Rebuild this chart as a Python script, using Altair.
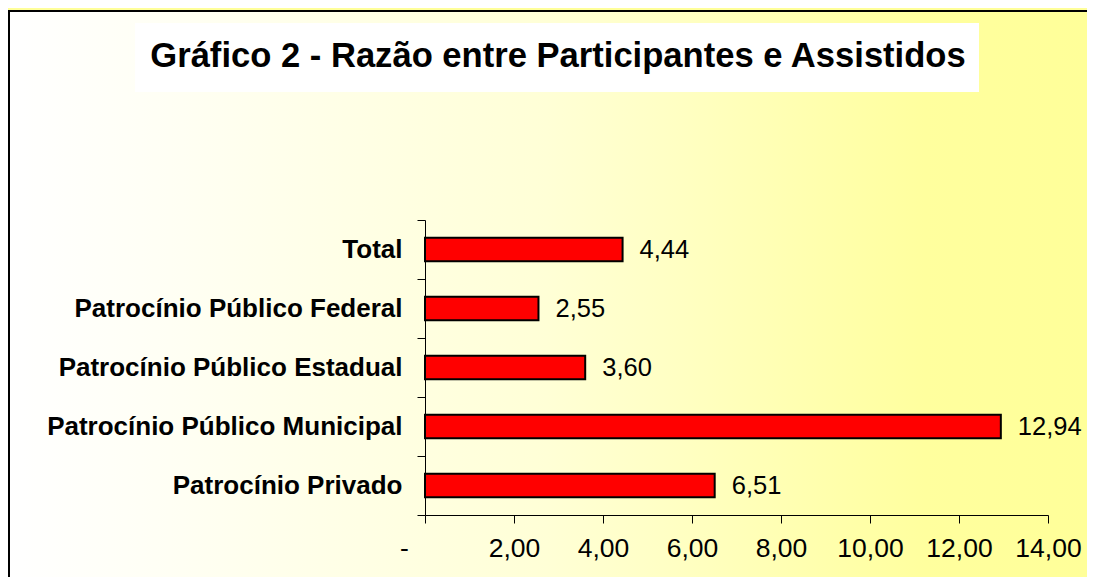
import altair as alt
import pandas as pd

categories = [
    "Total",
    "Patrocínio Público Federal",
    "Patrocínio Público Estadual",
    "Patrocínio Público Municipal",
    "Patrocínio Privado",
]
values = [4.44, 2.55, 3.60, 12.94, 6.51]
x_ticks = [0, 2, 4, 6, 8, 10, 12, 14]
title_text = "Gráfico 2 - Razão entre Participantes e Assistidos"

df = pd.DataFrame({"categoria": categories, "valor": values})

FONT = "Liberation Sans"
TOTAL_W, TOTAL_H = 1079, 569
W, H = 623, 295
PAD = {"left": 417, "top": 212}
PAD["right"] = TOTAL_W - PAD["left"] - W
PAD["bottom"] = TOTAL_H - PAD["top"] - H

# page coordinates of the plot origin (8px page margin)
OX, OY = 8 + PAD["left"], 8 + PAD["top"]

one = alt.Data(values=[{"k": 1}])

grad = alt.Gradient(
    gradient="linear",
    x1=0, x2=1, y1=0, y2=0,
    stops=[
        alt.GradientStop(color="#FFFFFF", offset=0),
        alt.GradientStop(color="#FFFFF4", offset=0.15),
        alt.GradientStop(color="#FFFFD6", offset=0.5),
        alt.GradientStop(color="#FFFF9E", offset=0.85),
        alt.GradientStop(color="#FFFF99", offset=1),
    ],
)

bg = alt.Chart(one).mark_rect(fill=grad, clip=False).encode(
    x=alt.value(-PAD["left"]),
    x2=alt.value(W + PAD["right"]),
    y=alt.value(-PAD["top"] + 2),
    y2=alt.value(H + PAD["bottom"]),
)

border_left = alt.Chart(one).mark_rule(color="black", strokeWidth=2, clip=False).encode(
    x=alt.value(-PAD["left"] + 1),
    y=alt.value(-PAD["top"] + 2),
    y2=alt.value(H + PAD["bottom"]),
)

border_top = alt.Chart(one).mark_rule(color="black", strokeWidth=2, clip=False).encode(
    x=alt.value(-PAD["left"]),
    x2=alt.value(W + PAD["right"]),
    y=alt.value(-PAD["top"] + 3),
)

title_box = alt.Chart(one).mark_rect(fill="white", clip=False).encode(
    x=alt.value(135 - OX),
    x2=alt.value(979 - OX),
    y=alt.value(23 - OY),
    y2=alt.value(92 - OY),
)

title = alt.Chart(one).mark_text(
    text=title_text,
    font=FONT,
    fontSize=34.6,
    fontWeight="bold",
    color="black",
    align="center",
    baseline="middle",
).encode(x=alt.value(558 - OX), y=alt.value(57 - OY))

label_expr = (
    "datum.value == 0 ? '-' : "
    "replace(format(datum.value, '.2f'), '.', ',')"
)

x_enc = alt.X(
    "valor:Q",
    scale=alt.Scale(domain=[0, 14], nice=False, zero=True),
    axis=alt.Axis(
        values=x_ticks,
        labelExpr=label_expr,
        title=None,
        grid=False,
        tickSize=8,
        tickColor="black",
        domainColor="black",
        labelColor="black",
        labelFont=FONT,
        labelFontSize=26.5,
        labelPadding=12,
        labelOffset={"condition": {"test": "datum.value == 0", "value": -21}, "value": 0},
        labelOverlap=False,
        labelFlush=False,
        zindex=2,
    ),
)

y_enc = alt.Y(
    "categoria:N",
    sort=categories,
    scale=alt.Scale(paddingInner=0, paddingOuter=0),
    axis=alt.Axis(
        title=None,
        tickBand="extent",
        tickSize=8,
        tickColor="black",
        domainColor="black",
        labelColor="black",
        labelFont=FONT,
        labelFontSize=26,
        labelFontWeight="bold",
        labelPadding=15,
        labelLimit=0,
        zindex=2,
    ),
)

bars = alt.Chart(df).mark_bar(
    color="#FF0000", stroke="black", strokeWidth=2, height={"band": 0.4}
).encode(x=x_enc, y=y_enc)

value_labels = alt.Chart(df).transform_calculate(
    rotulo="replace(format(datum.valor, '.2f'), '.', ',')"
).mark_text(
    font=FONT, fontSize=25.5, color="black", align="left", baseline="middle", dx=17
).encode(
    x=alt.X("valor:Q"),
    y=alt.Y("categoria:N", sort=categories),
    text="rotulo:N",
)

chart = alt.layer(
    bg, border_left, border_top, title_box, title, bars, value_labels
).properties(
    width=W,
    height=H,
    padding=PAD,
    autosize=alt.AutoSizeParams(type="none"),
    background="#FFFF99",
).configure_view(stroke=None)

chart.save("out.html", embed_options={"renderer": "svg", "actions": False})
